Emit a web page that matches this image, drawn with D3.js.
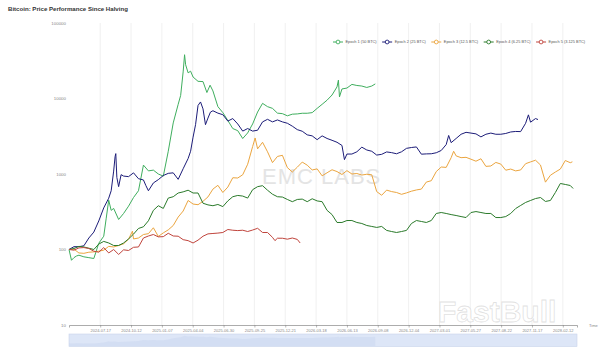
<!DOCTYPE html>
<html><head><meta charset="utf-8">
<script src="https://cdn.jsdelivr.net/npm/d3@7"></script>
<style>body{margin:0;background:#fff;} svg{display:block;font-family:"Liberation Sans",Arial,sans-serif;}</style>
</head><body><svg id="c" width="600" height="354"></svg>
<script>
const chartTitle = "Bitcoin: Price Performance Since Halving";
const startDate = "2024-04-20";
const lastDay = 1433;
const tickLabels = ["2024-07-17","2024-10-12","2025-01-07","2025-04-04","2025-06-30","2025-09-25","2025-12-21","2026-03-18","2026-06-13","2026-09-08","2026-12-04","2027-03-01","2027-05-27","2027-08-22","2027-11-17","2028-02-12"];
const yTicks = [10,100,1000,10000,100000];
const seriesNames = ["Epoch 1 (50 BTC)","Epoch 2 (25 BTC)","Epoch 3 (12.5 BTC)","Epoch 4 (6.25 BTC)","Epoch 5 (3.125 BTC)"];
const seriesColors = ["#3fae5e","#1c1c78","#eba53f","#2a7a2a","#c0443c"];

// [day since halving, performance index (100 = halving day)]
const epoch1 = [[0,100],[7,72],[14,78],[21,82],[28,84],[42,80],[56,78],[70,76],[84,121],[98,150],[105,260],[112,450],[119,330],[126,350],[140,250],[154,300],[168,375],[182,488],[196,600],[210,1312],[224,1100],[238,1125],[252,1000],[266,937],[280,2000],[294,4750],[308,8375],[315,11000],[322,22500],[326,38000],[329,28000],[336,21875],[343,23000],[350,19250],[364,16875],[378,16750],[389,12000],[398,15000],[406,12600],[420,7800],[434,6500],[448,5125],[462,4000],[476,3750],[490,2950],[504,3500],[518,4600],[532,6625],[546,8625],[560,7800],[574,7400],[588,6400],[602,6300],[616,5900],[630,6200],[644,6250],[658,6375],[672,6375],[686,6500],[700,7400],[714,8375],[728,9500],[742,11125],[756,14250],[760,17500],[763,10500],[770,13375],[784,13750],[798,15375],[812,14875],[826,14625],[840,14000],[854,14625],[864,15600]];
const epoch2 = [[0,100],[14,109],[28,109],[42,112],[56,142],[70,170],[84,239],[98,356],[112,478],[119,600],[126,1093],[130,1700],[132,1862],[135,900],[140,680],[147,980],[154,939],[168,923],[182,1036],[196,866],[210,834],[217,700],[224,600],[238,761],[252,842],[266,955],[280,1020],[294,1036],[308,850],[322,1174],[336,1603],[343,2000],[350,3077],[357,4500],[364,8097],[371,9000],[378,7287],[385,4500],[392,5506],[399,6600],[406,6883],[420,6400],[434,6100],[448,5020],[462,5425],[476,4600],[490,3700],[504,4000],[518,3700],[532,3800],[546,4900],[560,5300],[574,4900],[588,5200],[602,4900],[616,4700],[630,4300],[644,3870],[658,3684],[672,3300],[686,3198],[700,2850],[714,3200],[728,2955],[742,2794],[756,2632],[770,2389],[777,1550],[784,1838],[798,1838],[812,1968],[826,2267],[840,2081],[854,2000],[868,1781],[882,1822],[896,1960],[910,1919],[924,1854],[938,1968],[952,2186],[966,2243],[980,2283],[994,1830],[1008,1846],[1022,1854],[1036,1911],[1050,2049],[1064,2453],[1071,3240],[1078,2600],[1092,2955],[1106,3360],[1120,3563],[1134,3482],[1148,3401],[1162,3100],[1176,3360],[1190,3482],[1204,3360],[1218,3360],[1232,3441],[1246,3603],[1260,3660],[1274,3644],[1288,4696],[1296,6073],[1302,4858],[1316,5425],[1323,5263]];
const epoch3 = [[0,100],[14,101],[28,90],[42,89],[56,92],[70,93],[84,95],[98,98],[112,110],[126,108],[140,113],[154,119],[168,137],[179,175],[182,138],[196,142],[210,158],[224,162],[238,194],[252,149],[266,166],[280,182],[294,208],[308,269],[322,323],[336,446],[350,400],[364,392],[378,435],[392,497],[406,631],[420,708],[434,569],[448,671],[462,892],[476,885],[490,977],[504,1346],[518,2308],[525,3000],[532,2154],[546,2631],[560,1969],[574,1415],[588,1708],[602,1769],[616,1215],[630,1062],[644,1231],[658,1438],[672,1308],[686,1131],[700,1169],[714,946],[728,1038],[742,1138],[756,1077],[770,985],[784,1108],[798,1000],[812,1015],[826,969],[840,992],[854,977],[868,585],[882,523],[896,612],[910,585],[924,569],[938,538],[952,562],[966,592],[980,615],[994,631],[1008,782],[1022,815],[1036,1077],[1050,1238],[1064,1223],[1078,1646],[1085,2000],[1092,1738],[1106,1646],[1120,1662],[1134,1569],[1148,1477],[1162,1592],[1176,1262],[1190,1277],[1204,1423],[1218,1354],[1232,1123],[1246,1162],[1260,1100],[1274,1131],[1288,1369],[1302,1446],[1316,1523],[1330,1315],[1344,780],[1358,962],[1372,1062],[1386,1162],[1400,1508],[1414,1411],[1420,1450]];
const epoch4 = [[0,100],[14,103],[28,110],[42,108],[56,104],[70,100],[84,118],[98,128],[112,122],[126,113],[140,113],[154,122],[168,138],[182,160],[196,190],[210,200],[224,240],[238,330],[252,380],[266,350],[280,480],[294,500],[308,560],[322,580],[336,610],[350,560],[364,560],[378,410],[392,390],[406,380],[420,395],[434,370],[448,440],[462,500],[476,520],[490,510],[504,480],[518,620],[532,680],[546,700],[560,610],[574,540],[588,500],[602,495],[616,460],[630,430],[644,460],[658,465],[672,430],[686,470],[700,440],[714,430],[728,330],[742,290],[756,228],[770,228],[784,242],[798,242],[812,228],[826,221],[840,208],[854,202],[868,196],[882,202],[896,179],[910,173],[924,168],[938,173],[952,179],[966,221],[980,242],[994,235],[1008,228],[1022,242],[1036,300],[1050,309],[1064,300],[1078,290],[1092,282],[1106,273],[1120,265],[1134,309],[1148,318],[1162,309],[1176,300],[1190,300],[1204,265],[1218,265],[1232,273],[1246,300],[1260,349],[1274,383],[1288,420],[1302,446],[1316,473],[1330,488],[1344,433],[1358,446],[1372,569],[1386,749],[1400,727],[1414,704],[1422,643]];
const epoch5 = [[0,100],[14,98],[28,105],[42,106],[56,103],[70,95],[84,92],[98,106],[112,90],[126,100],[140,86],[154,99],[168,97],[182,107],[196,108],[210,142],[224,151],[238,158],[252,147],[266,148],[280,164],[294,151],[308,150],[322,135],[336,131],[350,122],[364,133],[378,150],[392,161],[406,163],[420,165],[434,168],[448,184],[462,180],[476,178],[490,180],[504,173],[518,181],[532,191],[546,168],[560,168],[574,145],[581,131],[588,141],[602,141],[616,137],[630,142],[644,136],[652,122]];
const seriesData = [epoch1, epoch2, epoch3, epoch4, epoch5];

const svg = d3.select("#c");
const t0 = new Date(startDate + "T00:00:00Z");
const dayToDate = d => new Date(t0.getTime() + d * 864e5);
const x = d3.scaleUtc().domain([t0, dayToDate(lastDay)]).range([69, 577]);
const y = d3.scaleLog().domain([10, 100000]).range([325, 23]);
const tickDates = tickLabels.map(s => new Date(s + "T00:00:00Z"));

// title
svg.append("text").attr("x", 8).attr("y", 11).attr("font-size", 6.1).attr("font-weight", "bold").attr("fill", "#333").text(chartTitle);

// vertical grid
svg.append("g").selectAll("line").data(tickDates).join("line")
  .attr("x1", d => x(d)).attr("x2", d => x(d)).attr("y1", y(100000)).attr("y2", y(10))
  .attr("stroke", "#ececec").attr("stroke-width", 0.8);

// watermark
svg.append("text").attr("x", 262).attr("y", 184).attr("font-size", 22).attr("fill", "#e4e4e4").attr("letter-spacing", 1).text("EMC LABS");

// x axis
const xAxis = d3.axisBottom(x).tickValues(tickDates).tickSize(2.5).tickPadding(1.5).tickFormat((d, i) => tickLabels[i]);
const gx = svg.append("g").attr("transform", `translate(0,${y(10)})`).call(xAxis);
gx.select(".domain").attr("stroke", "#888").attr("stroke-width", 0.7);
gx.selectAll(".tick line").attr("stroke", "#888").attr("stroke-width", 0.6);
gx.selectAll("text").attr("font-size", 4).attr("fill", "#888").attr("font-family", "Liberation Sans, Arial, sans-serif");

// y axis
const yAxis = d3.axisLeft(y).tickValues(yTicks).tickSize(0).tickPadding(3).tickFormat(d3.format("d"));
const gy = svg.append("g").attr("transform", "translate(69,0)").call(yAxis);
gy.select(".domain").remove();
gy.selectAll("text").attr("font-size", 4.4).attr("fill", "#888").attr("font-family", "Liberation Sans, Arial, sans-serif");

svg.append("text").attr("x", 589).attr("y", 327).attr("font-size", 4).attr("fill", "#888").text("Time");

// lines
const line = d3.line().x(d => x(dayToDate(d[0]))).y(d => y(d[1]));
svg.append("g").selectAll("path").data(seriesData).join("path")
  .attr("d", line).attr("fill", "none")
  .attr("stroke", (d, i) => seriesColors[i]).attr("stroke-width", 1).attr("stroke-linejoin", "round");

// legend
const lg = svg.append("g");
let lx = 333;
seriesNames.forEach((n, i) => {
  const g = lg.append("g");
  g.append("line").attr("x1", lx).attr("x2", lx + 10).attr("y1", 42).attr("y2", 42).attr("stroke", seriesColors[i]).attr("stroke-width", 1);
  g.append("circle").attr("cx", lx + 5).attr("cy", 42).attr("r", 1.9).attr("fill", "#fff").attr("stroke", seriesColors[i]).attr("stroke-width", 0.9);
  const t = g.append("text").attr("x", lx + 12.5).attr("y", 43.4).attr("font-size", 3.9).attr("fill", "#555").text(n);
  lx += 12.5 + t.node().getComputedTextLength() + 5.5;
});

// data zoom slider
svg.append("rect").attr("x", 69).attr("y", 334).attr("width", 508).attr("height", 12.5)
  .attr("fill", "#dde6f7").attr("stroke", "#c9d4ec").attr("stroke-width", 0.6);
const ys = d3.scaleLog().domain([10, 100000]).range([346, 334.5]);
const area = d3.area().x(d => x(dayToDate(d[0]))).y0(346).y1(d => ys(d[1]));
svg.append("path").attr("d", area(epoch1)).attr("fill", "#cdd8f0").attr("opacity", 0.6);

// overlay watermark
svg.append("text").attr("x", 438).attr("y", 322).attr("font-size", 30).attr("font-weight", "bold")
  .attr("fill", "rgba(255,255,255,0.75)").attr("stroke", "rgba(200,200,200,0.55)").attr("stroke-width", 0.8).text("FastBull");
</script></body></html>
